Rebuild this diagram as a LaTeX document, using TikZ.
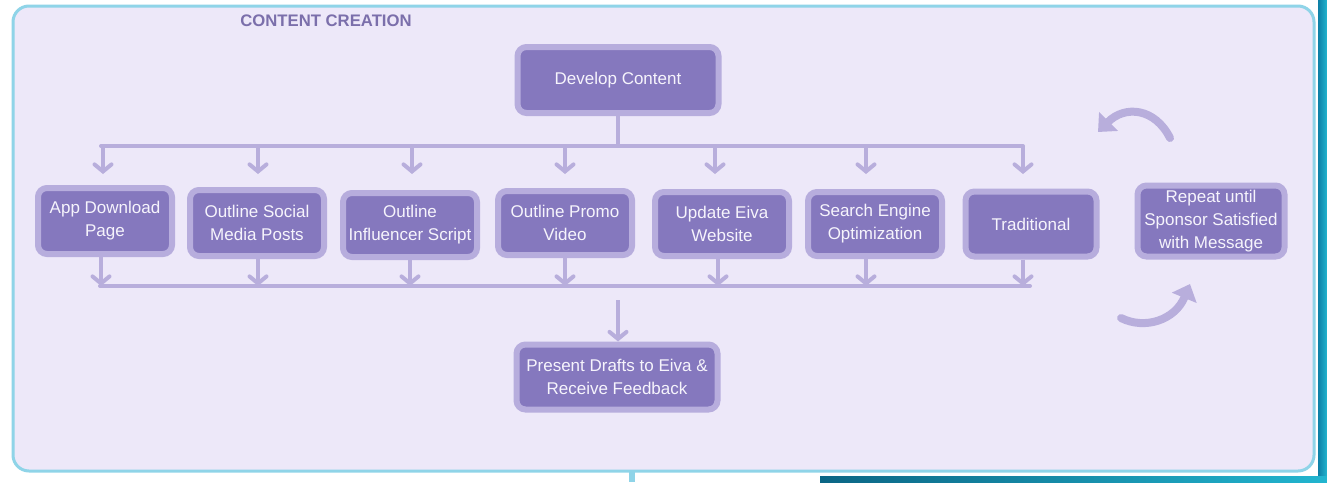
\documentclass[tikz,border=0pt]{standalone}
\usepackage{fontspec}
\setmainfont{Liberation Sans}
\usetikzlibrary{arrows.meta}
\definecolor{framefill}{HTML}{EDE8F9}
\definecolor{frameline}{HTML}{8FD4E8}
\definecolor{boxfill}{HTML}{8578BE}
\definecolor{boxline}{HTML}{B7ADDD}
\definecolor{connline}{HTML}{B8AEDC}
\definecolor{titlecol}{HTML}{7B6FAB}
\definecolor{boxtext}{HTML}{F6F4FC}
\definecolor{tealA}{HTML}{0E7FA6}
\definecolor{tealB}{HTML}{22B5CF}
\tikzset{
  stepbox/.style={draw=boxline, fill=boxfill, line width=6pt, rounded corners=9pt,
    align=center, text=boxtext, inner sep=0pt,
    font=\fontsize{17}{23}\selectfont},
  conn/.style={draw=connline, line width=4pt},
  barb/.style={conn, -{Straight Barb[length=7pt,width=17pt,line cap=round]}},
  looparrow/.style={draw=connline, line width=8pt, line cap=round,
    -{Triangle[length=15pt,width=26pt]}},
}
\begin{document}
\begin{tikzpicture}[x=1pt,y=-1pt]
\useasboundingbox (0,0) rectangle (1327,482);
\fill[white] (0,0) rectangle (1327,482);
% edge strips
\shade[left color=tealA, right color=tealB] (1318,0) rectangle (1327,482);
\shade[left color=tealA!80!black, right color=tealB] (820,476) rectangle (1327,482);
\fill[frameline] (629,470) rectangle (635,482);
% frame
\draw[draw=frameline, fill=framefill, line width=3pt, rounded corners=16pt]
  (13,6) rectangle (1314,471);
\node[text=titlecol, font=\fontsize{16.7}{20}\selectfont\bfseries] (title) at (326,21) {CONTENT CREATION};

% top and bottom boxes
\node[stepbox, minimum width=201pt, minimum height=66pt] (dev) at (618,80) {Develop Content};
\node[stepbox, minimum width=201pt, minimum height=65pt] (pres) at (617,377)
  {Present Drafts to Eiva \&\\Receive Feedback};

% row of tasks
\node[stepbox, minimum width=134pt, minimum height=66pt] (b1) at (105,221) {App Download\\Page};
\node[stepbox, minimum width=134pt, minimum height=66pt] (b2) at (257,223) {Outline Social\\Media Posts};
\node[stepbox, minimum width=134pt, minimum height=64pt] (b3) at (410,225) {Outline\\Influencer Script};
\node[stepbox, minimum width=134pt, minimum height=64pt] (b4) at (565,223) {Outline Promo\\Video};
\node[stepbox, minimum width=134pt, minimum height=64pt] (b5) at (722,224) {Update Eiva\\Website};
\node[stepbox, minimum width=134pt, minimum height=64pt] (b6) at (875,224) {Search Engine\\Optimization};
\node[stepbox, minimum width=131pt, minimum height=65pt] (b7) at (1031,224) {Traditional};
\node[stepbox, minimum width=147pt, minimum height=71pt] (rep) at (1211,221)
  {Repeat until\\Sponsor Satisfied\\with Message};

% distribution bus
\coordinate (busL) at (101,146);
\coordinate (busR) at (1023,146);
\coordinate (busM) at (618,146);
\draw[conn, line cap=round] (busL) -- (busR);
\draw[conn] (dev.south) -- (busM);
\foreach \i/\x in {1/103,2/258,3/412,4/565,5/715,6/866,7/1023}{
  \coordinate (top\i) at (\x,146);
  \coordinate (tip\i) at (\x,174);
  \draw[barb] (top\i) -- (tip\i);
}

% collection bus
\coordinate (colL) at (100,286);
\coordinate (colR) at (1030,286);
\draw[conn, line cap=round] (colL) -- (colR);
\foreach \i/\x in {1/101,2/258,3/410,4/565,5/718,6/866,7/1023}{
  \coordinate (cb\i) at (\x,286);
  \draw[barb] (b\i.south -| cb\i) -- (cb\i);
}
\coordinate (colM) at (618,300);
\draw[barb] (colM) -- (colM |- pres.north);

% loop arrows around the review step
\coordinate (l1s) at (1170,138);
\coordinate (l1e) at (1098,132);
\draw[looparrow] (l1s) .. controls (1155,108) and (1125,105) .. (l1e);
\coordinate (l2s) at (1121,318);
\coordinate (l2e) at (1190,284);
\draw[looparrow] (l2s) .. controls (1145,330) and (1175,320) .. (l2e);
\end{tikzpicture}
\end{document}
